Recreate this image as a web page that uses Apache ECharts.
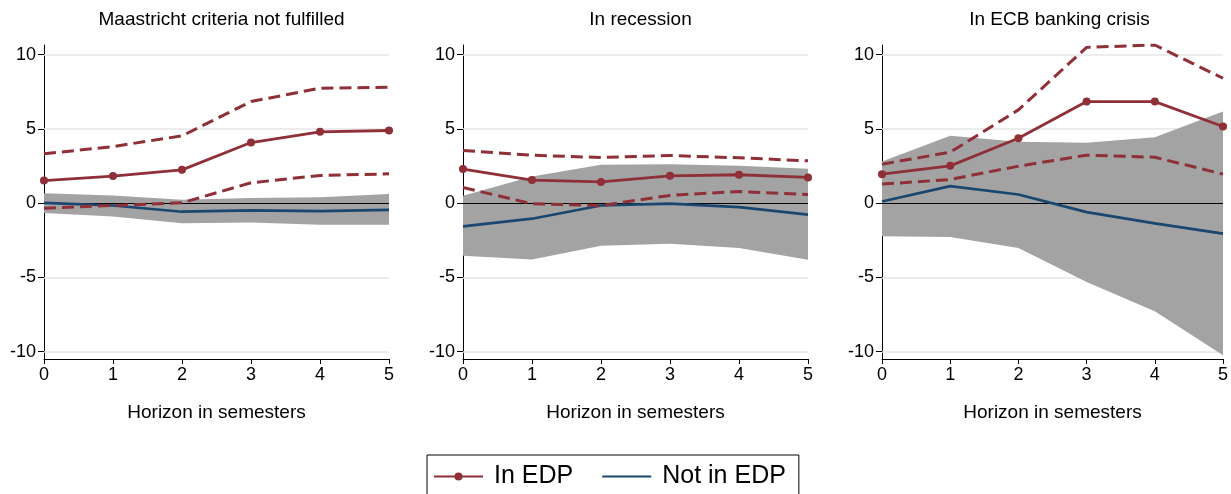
<!DOCTYPE html>
<html>
<head>
<meta charset="utf-8">
<script src="https://cdn.jsdelivr.net/npm/echarts@6/dist/echarts.min.js"></script>
<style>
  html, body { margin: 0; padding: 0; background: #fff; }
  #chart { width: 1231px; height: 494px; }
</style>
</head>
<body>
<div id="chart"></div>
<script>
// horizons and panel titles
const horizon = [0, 1, 2, 3, 4, 5];
const panelTitles = ['Maastricht criteria not fulfilled', 'In recession', 'In ECB banking crisis'];
const yTicks = [-10, -5, 0, 5, 10];

// In EDP: point estimate and confidence bounds, one row per panel
const edpMean = [
  [1.52, 1.82, 2.24, 4.08, 4.80, 4.89],
  [2.29, 1.55, 1.43, 1.84, 1.91, 1.73],
  [1.95, 2.51, 4.37, 6.84, 6.84, 5.16]
];
const edpUpper = [
  [3.32, 3.81, 4.53, 6.84, 7.74, 7.80],
  [3.54, 3.23, 3.07, 3.21, 3.05, 2.85],
  [2.62, 3.43, 6.28, 10.49, 10.65, 8.41]
];
const edpLower = [
  [-0.34, -0.16, 0.02, 1.37, 1.86, 1.97],
  [1.05, -0.04, -0.16, 0.52, 0.78, 0.58],
  [1.28, 1.59, 2.49, 3.23, 3.09, 1.95]
];

// Not in EDP: point estimate and confidence band
const nonMean = [
  [0.02, -0.16, -0.58, -0.49, -0.54, -0.45],
  [-1.57, -1.05, -0.16, -0.04, -0.27, -0.78],
  [0.11, 1.14, 0.58, -0.61, -1.37, -2.06]
];
const nonUpper = [
  [0.67, 0.52, 0.22, 0.34, 0.40, 0.61],
  [0.49, 1.79, 2.58, 2.62, 2.51, 2.31],
  [2.80, 4.53, 4.13, 4.06, 4.44, 6.17]
];
const nonLower = [
  [-0.67, -0.90, -1.35, -1.30, -1.46, -1.46],
  [-3.54, -3.79, -2.87, -2.74, -3.03, -3.81],
  [-2.24, -2.29, -3.03, -5.31, -7.29, -10.25]
];

const RED = '#8f2f37';
const BLUE = '#1a476f';
const BAND = '#a3a3a3';
const FONT = 'Liberation Sans';

const gridLefts = [44, 463, 882];
const gridWidth = 345;

const pair = (xs, ys) => xs.map((x, i) => [x, ys[i]]);

const chart = echarts.init(document.getElementById('chart'), null, { renderer: 'canvas' });

const grids = [], xAxes = [], yAxes = [], titles = [], series = [];

// band polygon: upper bound left->right, then lower bound right->left
function bandRenderer(p) {
  return function (params, api) {
    if (params.dataIndex !== 0) return;
    const pts = [];
    horizon.forEach((h, i) => pts.push(api.coord([h, nonUpper[p][i]])));
    for (let i = horizon.length - 1; i >= 0; i--) pts.push(api.coord([horizon[i], nonLower[p][i]]));
    return { type: 'polygon', shape: { points: pts }, style: { fill: BAND } };
  };
}

for (let p = 0; p < 3; p++) {
  grids.push({ left: gridLefts[p], width: gridWidth, top: 45, bottom: 135, containLabel: false });
  titles.push({
    text: panelTitles[p],
    left: gridLefts[p] + gridWidth / 2,
    textAlign: 'center',
    top: 5,
    textStyle: { fontFamily: FONT, fontSize: 19, fontWeight: 'normal', color: '#000' }
  });
  xAxes.push({
    type: 'value', gridIndex: p, min: 0, max: 5, interval: 1,
    name: 'Horizon in semesters', nameLocation: 'middle', nameGap: 44,
    nameTextStyle: { fontFamily: FONT, fontSize: 19, color: '#000' },
    axisLine: { show: true, onZero: false, lineStyle: { color: '#000', width: 1 } },
    axisTick: { show: true, length: 5, lineStyle: { color: '#000' } },
    axisLabel: { fontFamily: FONT, fontSize: 18, color: '#000', margin: 7 },
    splitLine: { show: false }
  });
  yAxes.push({
    type: 'value', gridIndex: p, min: -10.5, max: 10.65,
    axisLine: { show: true, onZero: false, lineStyle: { color: '#000', width: 1 } },
    axisTick: { show: true, length: 6, customValues: yTicks, lineStyle: { color: '#000' } },
    axisLabel: { fontFamily: FONT, fontSize: 18, color: '#000', margin: 8, customValues: yTicks },
    splitLine: { show: false }
  });

  // light grid lines (under the band)
  series.push({
    type: 'line', xAxisIndex: p, yAxisIndex: p, data: [], silent: true, z: 1,
    markLine: {
      z: 1, silent: true, symbol: 'none', label: { show: false }, animation: false,
      lineStyle: { color: '#e6e6e6', width: 1.5, type: 'solid' },
      data: [{ yAxis: 10 }, { yAxis: 5 }, { yAxis: -5 }, { yAxis: -10 }]
    }
  });

  // grey confidence band for Not in EDP
  series.push({
    type: 'custom', xAxisIndex: p, yAxisIndex: p, silent: true, z: 2,
    data: horizon.map((h, i) => [h, nonLower[p][i], nonUpper[p][i]]),
    encode: { x: 0, y: [1, 2] },
    renderItem: bandRenderer(p)
  });

  // zero line
  series.push({
    type: 'line', xAxisIndex: p, yAxisIndex: p, data: [], silent: true, z: 3,
    markLine: {
      z: 3, silent: true, symbol: 'none', label: { show: false }, animation: false,
      lineStyle: { color: '#000', width: 1, type: 'solid' },
      data: [{ yAxis: 0 }]
    }
  });

  series.push({
    name: 'Not in EDP', type: 'line', xAxisIndex: p, yAxisIndex: p,
    data: pair(horizon, nonMean[p]), symbol: 'none', z: 4,
    lineStyle: { color: BLUE, width: 2.7 }, itemStyle: { color: BLUE }
  });

  [edpUpper[p], edpLower[p]].forEach(arr => {
    series.push({
      name: 'EDP bound', type: 'line', xAxisIndex: p, yAxisIndex: p,
      data: pair(horizon, arr), symbol: 'none', z: 5,
      lineStyle: { color: RED, width: 3, type: [12, 6] }
    });
  });

  series.push({
    name: 'In EDP', type: 'line', xAxisIndex: p, yAxisIndex: p,
    data: pair(horizon, edpMean[p]), symbol: 'circle', symbolSize: 8, z: 6,
    lineStyle: { color: RED, width: 2.8 }, itemStyle: { color: RED }
  });
}

chart.setOption({
  animation: false,
  backgroundColor: '#fff',
  title: titles,
  grid: grids,
  xAxis: xAxes,
  yAxis: yAxes,
  legend: {
    data: ['In EDP', { name: 'Not in EDP', itemStyle: { opacity: 0 } }],
    left: 427, top: 455,
    itemWidth: 49, itemHeight: 10, itemGap: 28,
    padding: [9, 13, 6, 6],
    borderColor: '#000', borderWidth: 1,
    textStyle: { fontFamily: FONT, fontSize: 25, color: '#000', padding: [0, 0, 0, 6] }
  },
  series: series
});
</script>
</body>
</html>
